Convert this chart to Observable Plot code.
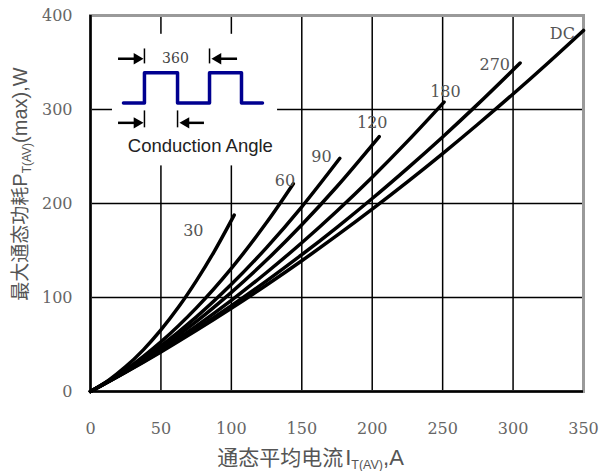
<!DOCTYPE html>
<html><head><meta charset="utf-8">
<script src="https://cdn.jsdelivr.net/npm/d3@7"></script>
<script src="https://cdn.jsdelivr.net/npm/@observablehq/plot@0.6"></script>
<style>body{margin:0;background:#fff}</style>
</head><body><div id="chart"></div>
<script>
// Curves: average on-state current (A) vs max power dissipation (W), per conduction angle
const current30  = [0, 12.5, 25, 37.5, 50, 62.5, 75, 87.5, 102];
const power30    = [0, 11.6, 26.4, 44.3, 65.5, 89.8, 117.4, 148.1, 187.7];
const current60  = [0, 25, 50, 75, 100, 125, 144];
const power60    = [0, 23.2, 52.8, 88.7, 131, 179.7, 221];
const current90  = [0, 25, 50, 75, 100, 125, 150, 177];
const power90    = [0, 22.1, 48.5, 79.1, 114, 153.1, 196.5, 248.1];
const current120 = [0, 25, 50, 75, 100, 125, 150, 175, 205];
const power120   = [0, 21.6, 46.4, 74.3, 105.5, 139.8, 177.4, 218.1, 271.2];
const current180 = [0, 25, 50, 75, 100, 125, 150, 175, 200, 225, 251];
const power180   = [0, 21.1, 44.3, 69.6, 97, 126.6, 158.3, 192.1, 228, 266.1, 307.9];
const current270 = [0, 25, 50, 75, 100, 125, 150, 175, 200, 225, 250, 275, 305];
const power270   = [0, 20.7, 42.8, 66.4, 91.3, 117.7, 145.5, 174.7, 205.3, 237.4, 270.8, 305.7, 349.4];
const currentDC  = [0, 25, 50, 75, 100, 125, 150, 175, 200, 225, 250, 275, 300, 325, 350];
const powerDC    = [0, 20.5, 42.1, 64.8, 88.5, 113.3, 139.1, 166, 194, 223, 253.1, 284.3, 316.5, 349.8, 384.1];

const angles = ["30", "60", "90", "120", "180", "270", "DC"];
const currents = [current30, current60, current90, current120, current180, current270, currentDC];
const powers = [power30, power60, power90, power120, power180, power270, powerDC];
const labelX = [73, 138, 164, 200, 252, 287, 335];
const labelY = [171, 224, 250, 286, 319, 348, 380];

const xTicks = [0, 50, 100, 150, 200, 250, 300, 350];
const yTicks = [0, 100, 200, 300, 400];
const xGrid = [50, 100, 150, 200, 250, 300];
const yGrid = [100, 200, 300];

// Inset schematic (in chart units)
const waveX = [23.4, 38.3, 38.3, 61.8, 61.8, 84.5, 84.5, 107.2, 107.2, 122.1];
const waveY = [307, 307, 339, 339, 307, 307, 339, 339, 307, 307];
const insetBox = [{x1: 15.6, x2: 132.8, y1: 240, y2: 380}];
const barX = [38.3, 84.5, 38.3, 61.8];
const barY1 = [348.5, 348.5, 280.5, 280.5];
const barY2 = [364.4, 364.4, 298.5, 298.5];
const shaftX1 = [19.9, 90.5, 19.9, 67.8];
const shaftX2 = [33.0, 104.4, 33.0, 80.9];
const shaftY = [354, 354, 285.8, 285.8];
const headX = [33.0, 90.5, 33.0, 67.8];
const headDir = [90, -90, 90, -90];

const rows = angles.flatMap((a, i) => currents[i].map((c, j) => ({angle: a, current: c, power: powers[i][j]})));
const labels = angles.map((a, i) => ({text: a, x: labelX[i], y: labelY[i]}));
const wave = waveX.map((x, i) => ({x, y: waveY[i]}));
const bars = barX.map((x, i) => ({x, y1: barY1[i], y2: barY2[i]}));
const shafts = shaftX1.map((x1, i) => ({x1, x2: shaftX2[i], y: shaftY[i]}));
const heads = headX.map((x, i) => ({x, y: shaftY[i], rotate: headDir[i]}));

const serif = "'DejaVu Serif', 'Liberation Serif', serif";
const sans = "'Liberation Sans', Arial, sans-serif";

const chart = Plot.plot({
  width: 600, height: 471,
  marginLeft: 90, marginRight: 17, marginTop: 15, marginBottom: 80,
  x: {domain: [0, 350]},
  y: {domain: [0, 400]},
  style: {background: "white", overflow: "visible"},
  marks: [
    Plot.gridX(xGrid, {stroke: "black", strokeOpacity: 1, strokeWidth: 1.5}),
    Plot.gridY(yGrid, {stroke: "black", strokeOpacity: 1, strokeWidth: 1.5}),
    Plot.rect(insetBox, {x1: "x1", x2: "x2", y1: "y1", y2: "y2", fill: "white"}),
    Plot.frame({stroke: "#9a9a9a", strokeWidth: 3}),
    Plot.ruleX([0], {stroke: "black", strokeWidth: 2.5}),
    Plot.ruleY([0], {stroke: "black", strokeWidth: 2.5}),
    Plot.axisX(xTicks, {tickSize: 0, tickPadding: 31, fontSize: 16, fontFamily: serif, color: "#666", label: null}),
    Plot.axisY(yTicks, {tickSize: 0, tickPadding: 18, fontSize: 16, fontFamily: serif, color: "#666", label: null}),
    Plot.line(rows, {x: "current", y: "power", z: "angle", stroke: "black", strokeWidth: 3.5, curve: "catmull-rom"}),
    Plot.text(labels, {x: "x", y: "y", text: "text", fontSize: 16, fontFamily: serif, fill: "#555"}),
    Plot.line(wave, {x: "x", y: "y", stroke: "#000090", strokeWidth: 3.5}),
    Plot.ruleX(bars, {x: "x", y1: "y1", y2: "y2", stroke: "black", strokeWidth: 1.5}),
    Plot.ruleY(shafts, {y: "y", x1: "x1", x2: "x2", stroke: "black", strokeWidth: 2.5}),
    Plot.dot(heads, {x: "x", y: "y", rotate: "rotate", symbol: "triangle", r: 4.2, fill: "black", stroke: "none"}),
    Plot.text(["360"], {x: 60.3, y: 354, text: d => d, fontSize: 14, fontFamily: serif, fill: "#444"}),
    Plot.text(["Conduction Angle"], {x: 78, y: 261, text: d => d, fontSize: 18.5, fontFamily: sans, fill: "#222"})
  ]
});

const svg = d3.select(chart);
const cjk = "'Noto Sans CJK SC', sans-serif";
// Y axis title
const yt = svg.append("text")
  .attr("transform", "translate(27,184) rotate(-90)")
  .attr("text-anchor", "middle").attr("fill", "#555");
yt.append("tspan").attr("font-family", cjk).attr("font-size", 19).text("最大通态功耗");
yt.append("tspan").attr("font-family", sans).attr("font-size", 20).text("P");
yt.append("tspan").attr("font-family", sans).attr("font-size", 12).attr("dy", 4).text("T(AV)");
yt.append("tspan").attr("font-family", sans).attr("font-size", 20).attr("dy", -4).text("(max),W");
// X axis title
const xt = svg.append("text")
  .attr("x", 310.5).attr("y", 465)
  .attr("text-anchor", "middle").attr("fill", "#555");
xt.append("tspan").attr("font-family", cjk).attr("font-size", 21).text("通态平均电流");
xt.append("tspan").attr("font-family", sans).attr("font-size", 22).attr("dx", 2).text("I");
xt.append("tspan").attr("font-family", sans).attr("font-size", 12.5).attr("dy", 4).text("T(AV)");
xt.append("tspan").attr("font-family", sans).attr("font-size", 22).attr("dy", -4).text(",A");

document.getElementById("chart").appendChild(chart);
</script>
</body></html>
